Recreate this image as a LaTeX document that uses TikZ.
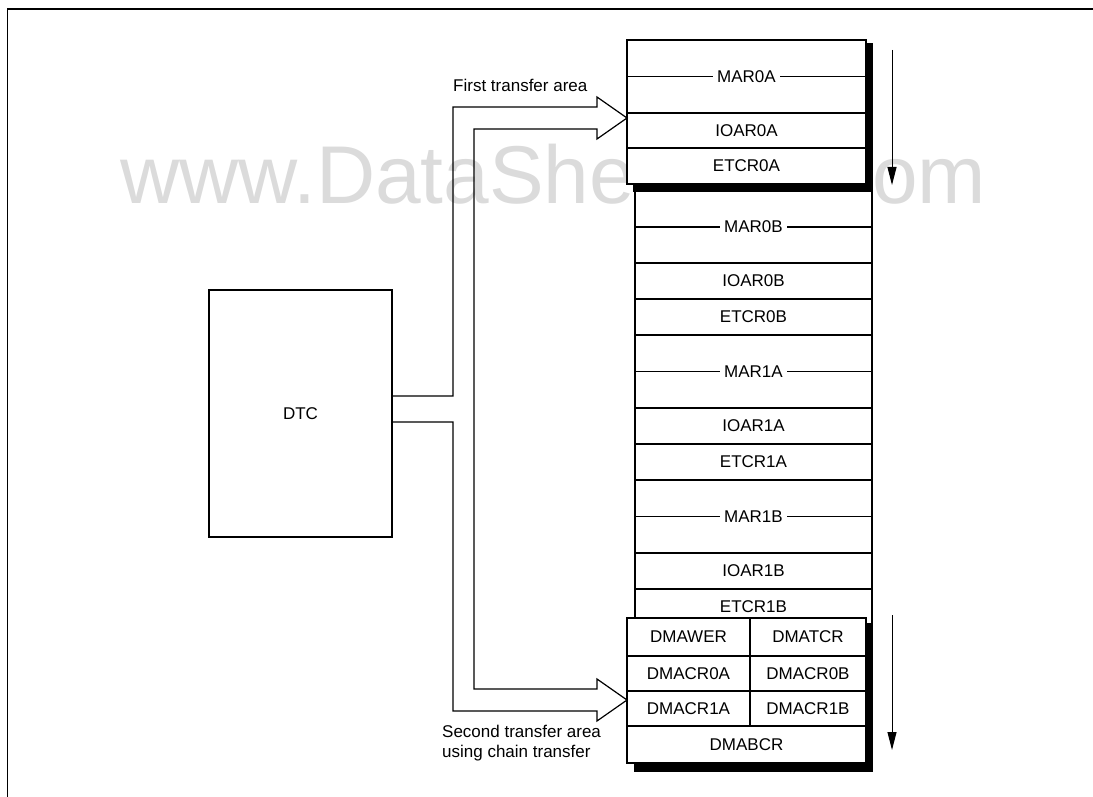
\documentclass[tikz,border=0pt]{standalone}
\usepackage{fontspec}
\setmainfont{Liberation Sans}
\usetikzlibrary{arrows.meta, positioning, calc}

\begin{document}
\begin{tikzpicture}[
    x=1pt, y=-1pt,
    node distance=0pt,
    font=\fontsize{17}{20}\selectfont,
    reg/.style={rectangle, draw, fill=white, line width=1.2pt, inner sep=0pt, outer sep=0pt, minimum width=239pt, minimum height=36pt},
    midreg/.style={reg, minimum width=237pt},
    marreg/.style={minimum height=73pt, path picture={\draw[line width=1.2pt] (path picture bounding box.west) -- (path picture bounding box.east);}, label={[tag]center:#1}},
    tag/.style={fill=white, inner xsep=4pt, inner ysep=2pt},
    shade/.style={fill=black},
    hollow/.style={line width=1.2pt, line join=miter},
    flow/.style={line width=1pt, -{Triangle[width=9pt, length=18pt]}},
    note/.style={inner sep=0pt},
    watermark/.style={text=black!14, font=\fontsize{82}{82}\selectfont, inner sep=0pt}
  ]
    \useasboundingbox (0,0) rectangle (1093,797);
    \draw[line width=1.5pt] (7.5,797) |- (1093,9);
    \node[watermark, anchor=base west] (wmark) at (120,204) {www.DataSheet4U.com};

    \node[reg, minimum width=183pt, minimum height=247pt, anchor=north west] (dtc) at (209,290) {DTC};

    % second register column, partly hidden
    \node[midreg, marreg=MAR0B, minimum height=72pt, anchor=north west] (mar0b) at (635,191) {};
    \node[midreg, below=of mar0b] (ioar0b) {IOAR0B};
    \node[midreg, below=of ioar0b] (etcr0b) {ETCR0B};
    \node[midreg, marreg=MAR1A, below=of etcr0b] (mar1a) {};
    \node[midreg, below=of mar1a] (ioar1a) {IOAR1A};
    \node[midreg, below=of ioar1a] (etcr1a) {ETCR1A};
    \node[midreg, marreg=MAR1B, below=of etcr1a] (mar1b) {};
    \node[midreg, below=of mar1b] (ioar1b) {IOAR1B};
    \node[midreg, below=of ioar1b] (etcr1b) {ETCR1B};

    % first transfer area
    \fill[shade] (633,43) rectangle (873,192);
    \node[reg, marreg=MAR0A, anchor=north west] (mar0a) at (627,40) {};
    \node[reg, minimum height=35pt, below=of mar0a] (ioar0a) {IOAR0A};
    \node[reg, below=of ioar0a] (etcr0a) {ETCR0A};

    % second transfer area
    \fill[shade] (634,623) rectangle (873,772);
    \node[reg, minimum width=123pt, minimum height=38pt, anchor=north west] (dmawer) at (627,618) {DMAWER};
    \node[reg, minimum width=116pt, minimum height=38pt, right=of dmawer] (dmatcr) {DMATCR};
    \node[reg, minimum width=123pt, minimum height=35pt, below=of dmawer] (dmacr0a) {DMACR0A};
    \node[reg, minimum width=116pt, minimum height=35pt, right=of dmacr0a] (dmacr0b) {DMACR0B};
    \node[reg, minimum width=123pt, minimum height=35pt, below=of dmacr0a] (dmacr1a) {DMACR1A};
    \node[reg, minimum width=116pt, minimum height=35pt, right=of dmacr1a] (dmacr1b) {DMACR1B};
    \node[reg, minimum height=37pt, anchor=north west] (dmabcr) at (dmacr1a.south west) {DMABCR};

    \coordinate (tipA) at ($(mar0a.south west)+(0,5)$);
    \coordinate (tipB) at ($(dmacr1a.north west)+(0,9)$);
    \draw[hollow] ($(dtc.east)+(0,-17.5)$) -| ($(tipA)+(-174,-11)$) -- ($(tipA)+(-30,-11)$)
      -- ($(tipA)+(-30,-21)$) -- (tipA) -- ($(tipA)+(-30,21)$) -- ($(tipA)+(-30,11)$)
      -- ($(tipA)+(-153,11)$) -- ($(tipB)+(-153,-11)$) -- ($(tipB)+(-30,-11)$)
      -- ($(tipB)+(-30,-21)$) -- (tipB) -- ($(tipB)+(-30,21)$) -- ($(tipB)+(-30,11)$)
      -- ($(tipB)+(-174,11)$) |- ($(dtc.east)+(0,8.5)$);

    \node[note, anchor=base west] (firstlbl) at (453,92) {First transfer area};
    \node[note, anchor=north west, align=left] (secondlbl) at (442,725) {Second transfer area\\using chain transfer};

    \coordinate (runA) at (892,50);
    \coordinate (endA) at (892,185);
    \coordinate (runB) at (892,615);
    \coordinate (endB) at (892,750);
    \draw[flow] (runA) -- (endA);
    \draw[flow] (runB) -- (endB);
  \end{tikzpicture}
\end{document}
